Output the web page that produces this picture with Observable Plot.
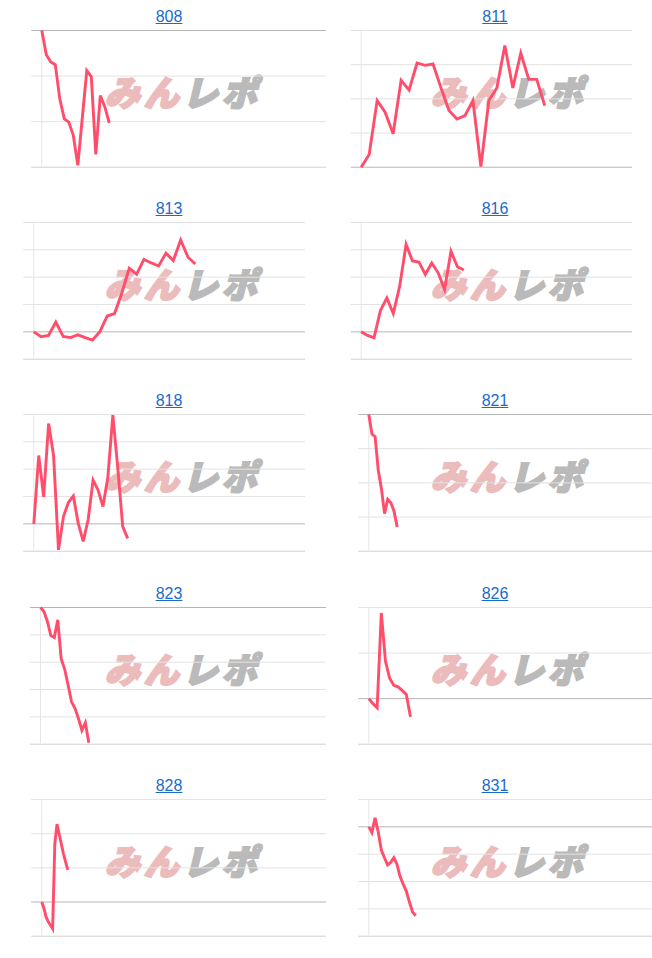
<!DOCTYPE html>
<html><head><meta charset="utf-8">
<script src="https://cdn.jsdelivr.net/npm/d3@7"></script>
<script src="https://cdn.jsdelivr.net/npm/@observablehq/plot@0.6"></script>
<style>
body{margin:0;background:#fff;font-family:Arial,"Liberation Sans",sans-serif;}
#grid{position:relative;width:652px;height:958px;overflow:hidden;}
.panel{position:absolute;width:326px;height:192px;overflow:hidden;}
.title{position:absolute;left:0;width:338px;top:8px;text-align:center;font-size:16px;line-height:17px;z-index:3;}
.title a{color:#1a6ccc;text-decoration:underline;}
.wm{position:absolute;left:104px;top:73px;font-family:"Noto Sans CJK JP";font-weight:900;font-size:35px;line-height:36px;letter-spacing:4px;white-space:nowrap;transform:skewX(-14deg);transform-origin:0 100%;z-index:1;}
.wm .a{color:#ecbcbd;-webkit-text-stroke:2.2px #ecbcbd;}
.wm .b{color:#bababa;-webkit-text-stroke:2.2px #bababa;}
.panel svg{position:absolute;left:0;top:0;z-index:2;}
</style></head>
<body>
<div id="grid"></div>
<script>
// ---- data ----
const ids = ["808","811","813","816","818","821","823","826","828","831"];
const v808 = [0,-0.53,-0.69,-0.75,-1.5,-1.94,-2.01,-2.3,-2.96,-1.92,-0.88,-1.01,-2.72,-1.43,-1.67,-2.03];
const v811 = [0,0.37,1.95,1.61,0.98,2.54,2.26,3.05,2.98,3.02,2.32,1.66,1.41,1.51,1.95,0.02,1.95,2.32,3.56,2.32,3.34,2.57,2.57,1.80];
const v813 = [0,-0.18,-0.13,0.36,-0.17,-0.21,-0.11,-0.21,-0.30,0.01,0.58,0.67,1.43,2.33,2.11,2.65,2.52,2.41,2.88,2.61,3.36,2.73,2.48];
const v816 = [0,-0.13,-0.22,0.78,1.24,0.67,1.67,3.2,2.59,2.55,2.1,2.52,2.16,1.55,2.95,2.38,2.26];
const v818 = [0,2.5,0.99,3.67,2.5,-0.95,0.27,0.78,1.02,0.02,-0.64,0.15,1.6,1.24,0.63,1.72,3.98,2.05,-0.1,-0.53];
const v821 = [0,-0.57,-0.65,-1.63,-2.17,-2.9,-2.48,-2.58,-2.83,-3.29];
const v823 = [0,-0.15,-0.51,-1.03,-1.1,-0.45,-1.88,-2.25,-2.84,-3.45,-3.69,-4.06,-4.49,-4.21,-4.95];
const v826 = [0,-0.11,-0.2,1.88,0.82,0.45,0.29,0.26,0.18,0.09,-0.4];
const v828 = [0,-0.19,-0.44,-0.58,-0.68,-0.78,1.70,2.28,1.99,1.70,1.41,1.17,0.94];
const v831 = [0,-0.21,0.33,-0.18,-0.85,-1.13,-1.39,-1.3,-1.13,-1.37,-1.82,-2.1,-2.36,-2.76,-3.12,-3.25];
const values = [v808,v811,v813,v816,v818,v821,v823,v826,v828,v831];

// gridline tick values per panel
const ticks808 = [-3,-2,-1,0];
const ticks811 = [0,1,2,3,4];
const ticks813 = [-1,0,1,2,3,4];
const ticks816 = [-1,0,1,2,3,4];
const ticks818 = [-1,0,1,2,3,4];
const ticks821 = [-4,-3,-2,-1,0];
const ticks823 = [-5,-4,-3,-2,-1,0];
const ticks826 = [-1,0,1,2];
const ticks828 = [-1,0,1,2,3];
const ticks831 = [-4,-3,-2,-1,0,1];
const ticks = [ticks808,ticks811,ticks813,ticks816,ticks818,ticks821,ticks823,ticks826,ticks828,ticks831];

// x extent (number of index steps spanned by each panel's x axis)
const xMax = [67.5, 34, 37, 42.3, 55, 96, 88.4, 72.6, 140, 96.7];

// ---- layout (positions only) ----
const plotLeft  = [41.3, 34.7, 33.3, 34.7, 33.3, 42.3, 40, 42.3, 41.3, 42.3];
const plotRight = [345, 306, 305, 306, 305, 345, 345, 345, 345, 345];
const rowPitch = 192.2;

const grid = document.getElementById("grid");
ids.forEach((id, k) => {
  const col = k % 2, row = Math.floor(k / 2);
  const panel = document.createElement("div");
  panel.className = "panel";
  panel.style.left = (col * 326) + "px";
  panel.style.top = (row * rowPitch) + "px";
  const t = document.createElement("div");
  t.className = "title";
  t.innerHTML = `<a href="#">${id}</a>`;
  panel.appendChild(t);
  const wm = document.createElement("div");
  wm.className = "wm";
  wm.innerHTML = `<span class="a">みん</span><span class="b">レポ</span>`;
  panel.appendChild(wm);

  const tk = ticks[k];
  const lo = d3.min(tk), hi = d3.max(tk);
  const data = values[k].map((v, i) => ({i, v}));
  const svg = Plot.plot({
    width: plotRight[k],
    height: 171,
    marginTop: 30,
    marginBottom: 4.3,
    marginLeft: plotLeft[k],
    marginRight: 0,
    style: {maxWidth: "none", overflow: "visible", background: "transparent"},
    x: {domain: [0, xMax[k]], axis: null},
    y: {domain: [lo, hi], axis: null},
    marks: [
      Plot.ruleY(tk.filter(d => d !== 0 && d !== lo), {stroke: "#e3e3e3", strokeWidth: 1, insetLeft: -10}),
      Plot.ruleY(tk.filter(d => d === lo && d !== 0), {stroke: "#d0d0d0", strokeWidth: 1, insetLeft: -10}),
      Plot.ruleX([0], {stroke: "#e6e6e6", strokeWidth: 1}),
      Plot.ruleY([0], {stroke: "#b5b5b5", strokeWidth: 1, insetLeft: -10}),
      Plot.line(data, {x: "i", y: "v", stroke: "#ff4d6b", strokeWidth: 2.9, strokeLinejoin: "miter", strokeMiterlimit: 4, strokeLinecap: "butt"})
    ]
  });
  panel.appendChild(svg);
  grid.appendChild(panel);
});
</script>
</body></html>
